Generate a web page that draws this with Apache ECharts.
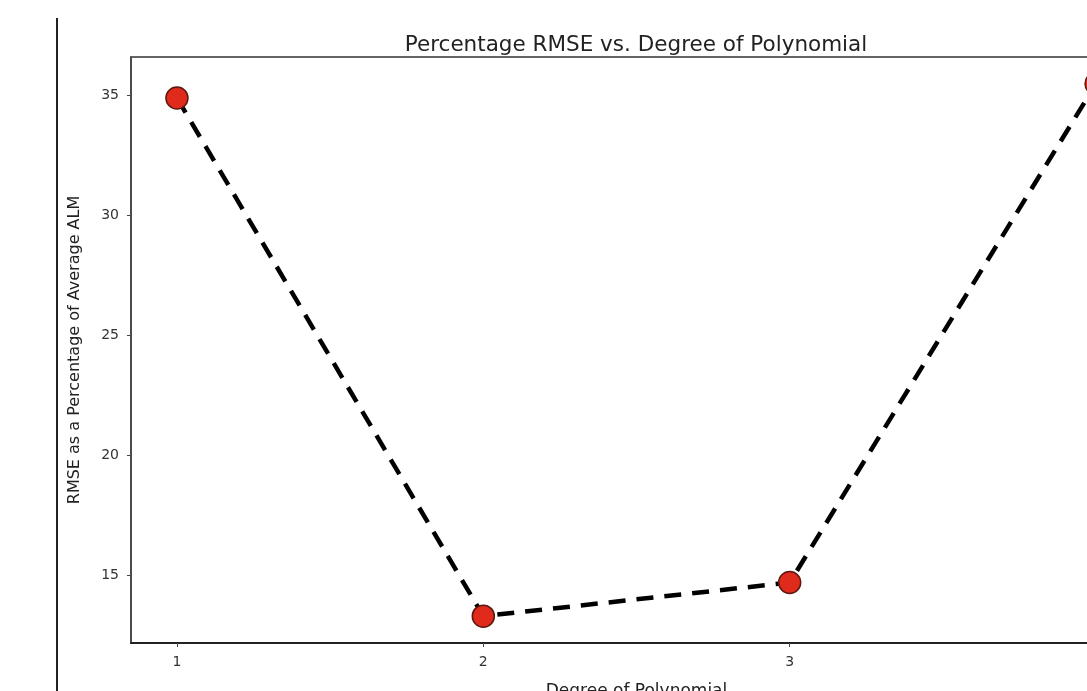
<!DOCTYPE html>
<html>
<head>
<meta charset="utf-8">
<script src="https://cdn.jsdelivr.net/npm/echarts@6/dist/echarts.min.js"></script>
<style>
html,body{margin:0;padding:0;background:#fff;}
#chart{width:1087px;height:691px;}
</style>
</head>
<body>
<div id="chart"></div>
<script>
// Data
const degrees = [1, 2, 3, 4];
const rmsePercent = [34.9, 13.3, 14.7, 35.5];
const xTicks = [1, 2, 3, 4];
const yTicks = [15, 20, 25, 30, 35];
const titleText = 'Percentage RMSE vs. Degree of Polynomial';
const xName = 'Degree of Polynomial';
const yName = 'RMSE as a Percentage of Average ALM';

const chart = echarts.init(document.getElementById('chart'));
const font = 'DejaVu Sans';
chart.setOption({
  animation: false,
  backgroundColor: '#fff',
  title: {
    text: titleText,
    left: 631,
    top: 29,
    textAlign: 'center',
    textStyle: { fontFamily: font, fontSize: 21.5, fontWeight: 'normal', color: '#222' }
  },
  grid: { left: 131, top: 57, right: -55, bottom: 48, outerBoundsMode: 'none', containLabel: false,
          show: true, borderColor: '#333', borderWidth: 1.5, backgroundColor: 'transparent' },
  xAxis: {
    type: 'value', min: 0.85, max: 4.15,
    name: xName, nameLocation: 'middle', nameGap: 40,
    nameTextStyle: { fontFamily: font, fontSize: 17, color: '#222', verticalAlign: 'top' },
    axisLine: { show: true, onZero: false, lineStyle: { color: '#222', width: 2 } },
    axisTick: { show: true, length: 4, lineStyle: { color: '#444' }, customValues: xTicks },
    axisLabel: { fontFamily: font, fontSize: 14, color: '#333', margin: 12, customValues: xTicks },
    splitLine: { show: false }
  },
  yAxis: {
    type: 'value', min: 12.18, max: 36.61,
    name: yName, nameLocation: 'middle', nameGap: 48,
    nameTextStyle: { fontFamily: font, fontSize: 16, color: '#222' },
    axisLine: { show: true, lineStyle: { color: '#444', width: 1.5 } },
    axisTick: { show: true, length: 4, lineStyle: { color: '#444' }, customValues: yTicks },
    axisLabel: { fontFamily: font, fontSize: 14, color: '#333', margin: 12, customValues: yTicks },
    splitLine: { show: false }
  },
  graphic: [{
    type: 'line', shape: { x1: 57, y1: 18, x2: 57, y2: 691 },
    style: { stroke: '#222', lineWidth: 2 }, z: 10
  }],
  series: [{
    type: 'line',
    data: degrees.map((d, i) => [d, rmsePercent[i]]),
    lineStyle: { color: '#000', width: 4.5, type: [17, 11] },
    symbol: 'circle', symbolSize: 22,
    itemStyle: { color: '#e02a1c', borderColor: '#5a1a12', borderWidth: 1.5 },
    clip: false
  }]
});
</script>
</body>
</html>
